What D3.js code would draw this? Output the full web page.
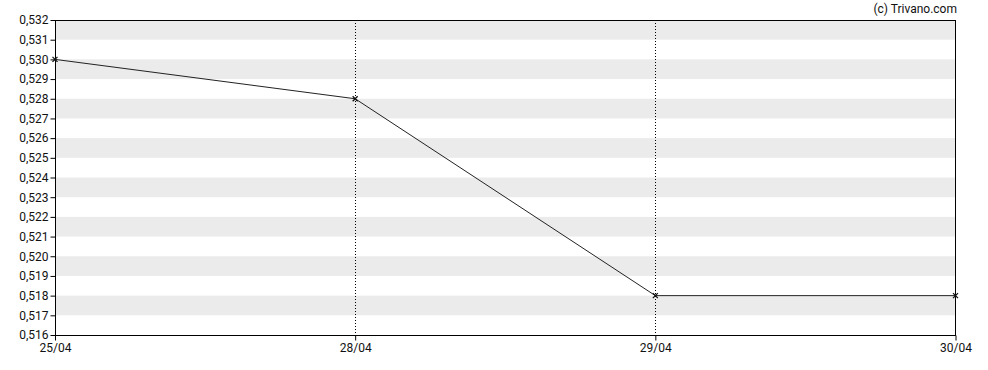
<!DOCTYPE html>
<html><head><meta charset="utf-8">
<script src="https://cdn.jsdelivr.net/npm/d3@7"></script>
<style>body{margin:0;background:#fff}svg{display:block}text{font-family:Roboto,"Noto Sans",sans-serif}</style>
</head><body><svg id="c" width="988" height="370"></svg>
<script>
const dates = ["25/04","28/04","29/04","30/04"];
const prices = [0.530,0.528,0.518,0.518];
const yTicks = [0.516,0.517,0.518,0.519,0.520,0.521,0.522,0.523,0.524,0.525,0.526,0.527,0.528,0.529,0.530,0.531,0.532];
const credit = "(c) Trivano.com";

const svg = d3.select("#c");
const L=55,R=955.5,T=20,B=335;
const x = d3.scalePoint().domain(dates).range([L,R]);
const y = d3.scaleLinear().domain([0.516,0.532]).range([B,T]);

// stripes
const bands = d3.range(0, yTicks.length-1).filter(i => (yTicks.length-2-i)%2===0);
svg.append("g").selectAll("rect").data(bands).join("rect")
  .attr("x",L).attr("width",R-L)
  .attr("y",i=>y(yTicks[i+1])).attr("height",i=>y(yTicks[i])-y(yTicks[i+1]))
  .attr("fill","#ebebeb");

// vertical dotted lines
svg.append("g").selectAll("line").data(dates.slice(1,-1)).join("line")
  .attr("x1",d=>Math.round(x(d))+0.5).attr("x2",d=>Math.round(x(d))+0.5)
  .attr("y1",T).attr("y2",B).attr("stroke","#000").attr("stroke-dasharray","1,2");

// frame
svg.append("rect").attr("x",L+0.5).attr("y",T+0.5).attr("width",R-L-0.5).attr("height",B-T)
  .attr("fill","none").attr("stroke","#000");

// y axis
const ya = svg.append("g").attr("transform",`translate(${L+0.5},0)`)
  .call(d3.axisLeft(y).tickValues(yTicks).tickSize(5).tickPadding(2)
    .tickFormat(d=>d3.format(".3f")(d).replace(".",",")));
ya.select(".domain").remove();
ya.selectAll("text").attr("font-size",12).attr("fill","#111").style("font-family","Roboto");

// x axis
const xa = svg.append("g").attr("transform",`translate(0,${B+0.5})`)
  .call(d3.axisBottom(x).tickSize(5).tickPadding(3));
xa.select(".domain").remove();
xa.selectAll("text").attr("font-size",12).attr("fill","#111").style("font-family","Roboto");

// line
const pts = dates.map((d,i)=>[x(d),y(prices[i])]);
svg.append("path").datum(pts).attr("d",d3.line()).attr("fill","none").attr("stroke","#222").attr("stroke-width",1);

// markers
svg.append("g").selectAll("path").data(pts).join("path")
  .attr("d",d=>`M${d[0]-2.5},${d[1]-2.5}L${d[0]+2.5},${d[1]+2.5}M${d[0]-2.5},${d[1]+2.5}L${d[0]+2.5},${d[1]-2.5}`)
  .attr("stroke","#111").attr("stroke-width",1.3);

svg.append("text").attr("x",957).attr("y",13).attr("text-anchor","end")
  .attr("font-size",12).attr("fill","#111").text(credit);
</script></body></html>
